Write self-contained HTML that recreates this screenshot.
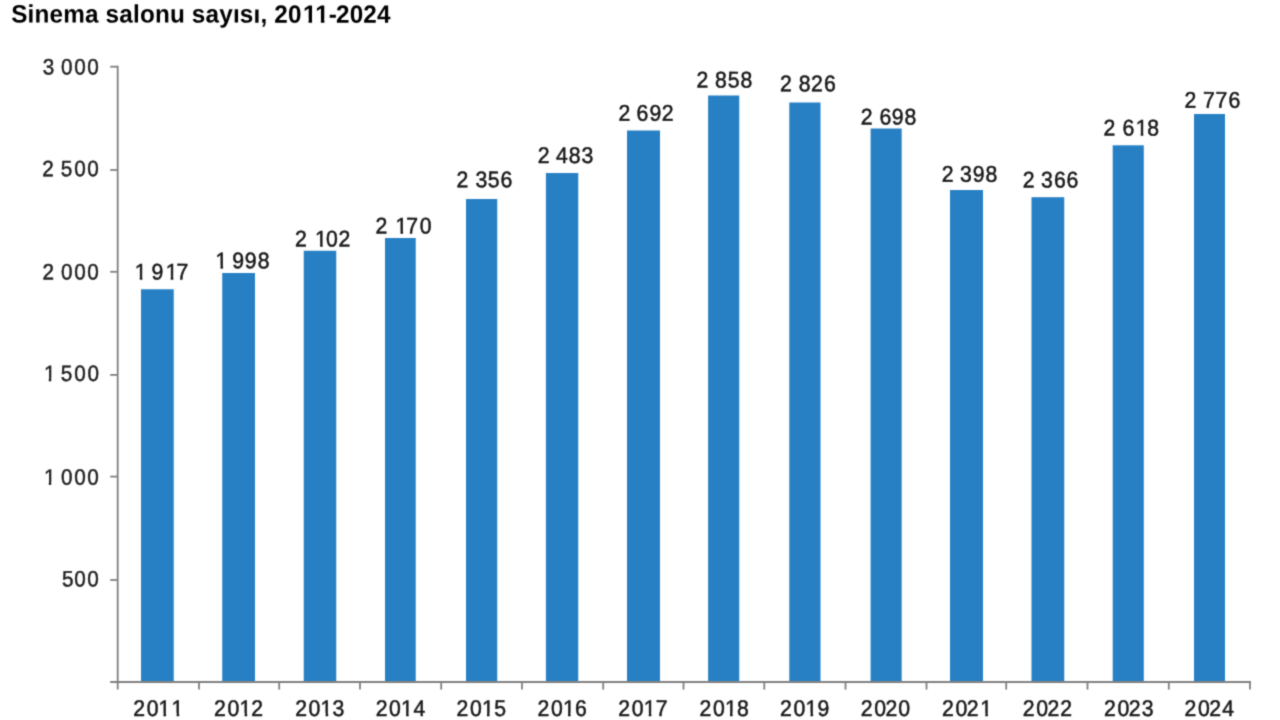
<!DOCTYPE html>
<html lang="tr">
<head>
<meta charset="utf-8">
<title>Sinema salonu sayısı, 2011-2024</title>
<style>
html,body{margin:0;padding:0;background:#fff;}
body{width:1280px;height:720px;overflow:hidden;position:relative;font-family:"Liberation Sans",sans-serif;}
svg{position:absolute;left:0;top:0;display:block;}
text{font-family:"Liberation Sans",sans-serif;white-space:pre;text-rendering:geometricPrecision;}
.t{font-size:24.3px;font-weight:bold;fill:#000;letter-spacing:0.1621px;}
.d{font-size:21.2px;fill:#181818;stroke:#181818;stroke-width:0.5px;}
.x{font-size:21.2px;fill:#1a1a1a;stroke:#1a1a1a;stroke-width:0.5px;}
.y{font-size:20.7px;fill:#202020;stroke:#202020;stroke-width:0.45px;}
.m{fill:#fff;stroke:none;}
</style>
</head>
<body>
<svg width="1280" height="720" viewBox="0 0 1280 720">
<defs><filter id="soft" x="0" y="0" width="1280" height="720" filterUnits="userSpaceOnUse" color-interpolation-filters="sRGB"><feConvolveMatrix order="3" kernelMatrix="1 4 1 4 16 4 1 4 1" divisor="36" edgeMode="duplicate" preserveAlpha="false"/></filter></defs>
<rect x="0" y="0" width="1280" height="720" fill="#ffffff"/>
<g id="title" filter="url(#soft)">
<text class="t" id="ttl" transform="translate(11.2,22.5) rotate(0.03) scale(1,1.03)" dx="0 0 0 0 0 0 0 0 0 0 0 0 0 0 0 0 0 0 0 0 0 0 0 0 1.3 0 -0.3 -1 0 0 0">Sinema salonu sayısı, 2011-2024</text>
<g class="m"><rect x="303.50" y="18.95" width="5.04" height="4.55"/><rect x="312.07" y="18.95" width="4.73" height="4.55"/><rect x="315.84" y="18.95" width="5.04" height="4.55"/><rect x="324.42" y="18.95" width="4.73" height="4.55"/></g>
</g>
<g id="bars" fill="#2780c4" filter="url(#soft)">
<rect x="141.00" y="289.25" width="32.75" height="392.75"/>
<rect x="222.20" y="273.00" width="32.80" height="409.00"/>
<rect x="303.75" y="250.75" width="32.50" height="431.25"/>
<rect x="385.00" y="238.00" width="30.75" height="444.00"/>
<rect x="466.00" y="199.00" width="31.25" height="483.00"/>
<rect x="545.90" y="173.00" width="32.35" height="509.00"/>
<rect x="627.00" y="130.50" width="33.00" height="551.50"/>
<rect x="708.10" y="95.50" width="31.15" height="586.50"/>
<rect x="789.30" y="102.50" width="31.20" height="579.50"/>
<rect x="870.60" y="128.50" width="31.10" height="553.50"/>
<rect x="950.00" y="190.00" width="33.00" height="492.00"/>
<rect x="1031.50" y="197.20" width="32.75" height="484.80"/>
<rect x="1112.70" y="145.30" width="31.10" height="536.70"/>
<rect x="1194.00" y="114.00" width="31.00" height="568.00"/>
</g>
<g id="axes" stroke="#808080" stroke-width="1.8" fill="none" filter="url(#soft)">
<line x1="117.70" y1="65.80" x2="117.70" y2="689.60"/>
<line x1="110.20" y1="682.00" x2="1250.90" y2="682.00"/>
<line x1="110.2" y1="66.70" x2="117.70" y2="66.70"/>
<line x1="110.2" y1="170.00" x2="117.70" y2="170.00"/>
<line x1="110.2" y1="271.80" x2="117.70" y2="271.80"/>
<line x1="110.2" y1="374.90" x2="117.70" y2="374.90"/>
<line x1="110.2" y1="476.60" x2="117.70" y2="476.60"/>
<line x1="110.2" y1="580.00" x2="117.70" y2="580.00"/>
<line x1="199.00" y1="682.00" x2="199.00" y2="689.6"/>
<line x1="279.20" y1="682.00" x2="279.20" y2="689.6"/>
<line x1="360.00" y1="682.00" x2="360.00" y2="689.6"/>
<line x1="441.20" y1="682.00" x2="441.20" y2="689.6"/>
<line x1="522.00" y1="682.00" x2="522.00" y2="689.6"/>
<line x1="603.20" y1="682.00" x2="603.20" y2="689.6"/>
<line x1="683.50" y1="682.00" x2="683.50" y2="689.6"/>
<line x1="764.30" y1="682.00" x2="764.30" y2="689.6"/>
<line x1="845.50" y1="682.00" x2="845.50" y2="689.6"/>
<line x1="926.50" y1="682.00" x2="926.50" y2="689.6"/>
<line x1="1006.20" y1="682.00" x2="1006.20" y2="689.6"/>
<line x1="1087.50" y1="682.00" x2="1087.50" y2="689.6"/>
<line x1="1168.80" y1="682.00" x2="1168.80" y2="689.6"/>
<line x1="1250.00" y1="682.00" x2="1250.00" y2="689.6"/>
</g>
<g id="ylabels" filter="url(#soft)">
<g class="y">
<text transform="translate(42.70,74.46) rotate(0.03) scale(1,1.08)" x="0.00 11.51 18.29 31.64 44.64">3 000</text>
<text transform="translate(42.34,176.21) rotate(0.03) scale(1,1.08)" x="0.00 11.51 18.42 31.90 45.00">2 500</text>
<text transform="translate(42.49,279.46) rotate(0.03) scale(1,1.08)" x="0.00 11.51 18.50 31.85 44.85">2 000</text>
<text transform="translate(43.88,380.96) rotate(0.03) scale(1,1.08)" x="0.00 11.51 16.78 30.46 43.61">1 500</text>
<text transform="translate(43.88,484.71) rotate(0.03) scale(1,1.08)" x="0.00 11.51 17.11 30.36 43.46">1 000</text>
<text transform="translate(62.01,586.46) rotate(0.03) scale(1,1.08)" x="0.00 12.13 25.23">500</text>
</g>
<g class="m"><rect x="44.23" y="378.04" width="4.51" height="4.16"/><rect x="51.26" y="378.04" width="4.35" height="4.16"/><rect x="44.23" y="481.79" width="4.51" height="4.16"/><rect x="51.26" y="481.79" width="4.35" height="4.16"/></g>
</g>
<g id="xlabels" filter="url(#soft)">
<g class="x">
<text transform="translate(133.20,715.93) rotate(0.03) scale(1,1.07)" x="0.00 13.65 25.28 38.43">2011</text>
<text transform="translate(214.10,715.93) rotate(0.03) scale(1,1.07)" x="0.00 13.40 25.53 37.10">2012</text>
<text transform="translate(295.20,715.93) rotate(0.03) scale(1,1.07)" x="0.00 13.40 25.43 37.36">2013</text>
<text transform="translate(375.70,715.93) rotate(0.03) scale(1,1.07)" x="0.00 13.40 25.43 37.72">2014</text>
<text transform="translate(456.50,715.93) rotate(0.03) scale(1,1.07)" x="0.00 13.60 25.48 37.87">2015</text>
<text transform="translate(537.60,715.93) rotate(0.03) scale(1,1.07)" x="0.00 13.50 25.43 37.43">2016</text>
<text transform="translate(618.35,715.93) rotate(0.03) scale(1,1.07)" x="0.00 13.50 25.43 37.49">2017</text>
<text transform="translate(699.60,715.93) rotate(0.03) scale(1,1.07)" x="0.00 13.50 25.43 37.50">2018</text>
<text transform="translate(780.10,715.93) rotate(0.03) scale(1,1.07)" x="0.00 13.50 25.43 37.51">2019</text>
<text transform="translate(860.85,715.93) rotate(0.03) scale(1,1.07)" x="0.00 13.50 24.70 37.50">2020</text>
<text transform="translate(942.00,715.93) rotate(0.03) scale(1,1.07)" x="0.00 13.50 24.70 38.33">2021</text>
<text transform="translate(1022.70,715.93) rotate(0.03) scale(1,1.07)" x="0.00 13.50 24.70 37.50">2022</text>
<text transform="translate(1104.10,715.93) rotate(0.03) scale(1,1.07)" x="0.00 13.50 24.70 37.56">2023</text>
<text transform="translate(1184.60,715.93) rotate(0.03) scale(1,1.07)" x="0.00 13.50 24.70 37.57">2024</text>
</g>
<g class="m"><rect x="158.85" y="712.97" width="4.60" height="4.23"/><rect x="166.06" y="712.97" width="4.43" height="4.23"/><rect x="172.00" y="712.97" width="4.60" height="4.23"/><rect x="179.21" y="712.97" width="4.43" height="4.23"/><rect x="240.00" y="712.97" width="4.60" height="4.23"/><rect x="247.21" y="712.97" width="4.43" height="4.23"/><rect x="321.00" y="712.97" width="4.60" height="4.23"/><rect x="328.21" y="712.97" width="4.43" height="4.23"/><rect x="401.50" y="712.97" width="4.60" height="4.23"/><rect x="408.71" y="712.97" width="4.43" height="4.23"/><rect x="482.35" y="712.97" width="4.60" height="4.23"/><rect x="489.56" y="712.97" width="4.43" height="4.23"/><rect x="563.40" y="712.97" width="4.60" height="4.23"/><rect x="570.61" y="712.97" width="4.43" height="4.23"/><rect x="644.15" y="712.97" width="4.60" height="4.23"/><rect x="651.36" y="712.97" width="4.43" height="4.23"/><rect x="725.40" y="712.97" width="4.60" height="4.23"/><rect x="732.61" y="712.97" width="4.43" height="4.23"/><rect x="805.90" y="712.97" width="4.60" height="4.23"/><rect x="813.11" y="712.97" width="4.43" height="4.23"/><rect x="980.70" y="712.97" width="4.60" height="4.23"/><rect x="987.91" y="712.97" width="4.43" height="4.23"/></g>
</g>
<g id="values" filter="url(#soft)">
<g class="d">
<text transform="translate(134.78,279.43) rotate(0.03) scale(1,1.07)" x="0.00 11.79 16.83 30.95 41.71">1 917</text>
<text transform="translate(215.48,268.18) rotate(0.03) scale(1,1.07)" x="0.00 11.79 16.88 29.38 42.37">1 998</text>
<text transform="translate(295.10,246.43) rotate(0.03) scale(1,1.07)" x="0.00 11.79 20.03 31.00 43.50">2 102</text>
<text transform="translate(375.60,233.43) rotate(0.03) scale(1,1.07)" x="0.00 11.79 19.88 30.74 44.25">2 170</text>
<text transform="translate(456.50,187.18) rotate(0.03) scale(1,1.07)" x="0.00 11.79 19.06 31.37 44.13">2 356</text>
<text transform="translate(537.70,162.93) rotate(0.03) scale(1,1.07)" x="0.00 11.79 18.37 31.15 43.71">2 483</text>
<text transform="translate(618.50,120.68) rotate(0.03) scale(1,1.07)" x="0.00 11.79 18.13 31.01 43.35">2 692</text>
<text transform="translate(696.50,87.43) rotate(0.03) scale(1,1.07)" x="0.00 11.79 18.60 31.37 44.00">2 858</text>
<text transform="translate(780.10,91.18) rotate(0.03) scale(1,1.07)" x="0.00 11.79 18.75 31.00 44.03">2 826</text>
<text transform="translate(860.70,124.43) rotate(0.03) scale(1,1.07)" x="0.00 11.79 18.73 31.01 43.80">2 698</text>
<text transform="translate(941.70,181.68) rotate(0.03) scale(1,1.07)" x="0.00 11.79 18.21 31.16 43.90">2 398</text>
<text transform="translate(1022.70,187.43) rotate(0.03) scale(1,1.07)" x="0.00 11.79 18.36 31.23 43.83">2 366</text>
<text transform="translate(1103.50,135.43) rotate(0.03) scale(1,1.07)" x="0.00 11.79 18.93 32.23 43.85">2 618</text>
<text transform="translate(1184.60,107.68) rotate(0.03) scale(1,1.07)" x="0.00 11.79 18.49 30.89 44.03">2 776</text>
</g>
<g class="m"><rect x="135.15" y="276.47" width="4.60" height="4.23"/><rect x="142.36" y="276.47" width="4.43" height="4.23"/><rect x="166.10" y="276.47" width="4.60" height="4.23"/><rect x="173.31" y="276.47" width="4.43" height="4.23"/><rect x="215.85" y="265.22" width="4.60" height="4.23"/><rect x="223.06" y="265.22" width="4.43" height="4.23"/><rect x="315.50" y="243.47" width="4.60" height="4.23"/><rect x="322.71" y="243.47" width="4.43" height="4.23"/><rect x="395.85" y="230.47" width="4.60" height="4.23"/><rect x="403.06" y="230.47" width="4.43" height="4.23"/><rect x="1136.10" y="132.47" width="4.60" height="4.23"/><rect x="1143.31" y="132.47" width="4.43" height="4.23"/></g>
</g>
</svg>
</body>
</html>
